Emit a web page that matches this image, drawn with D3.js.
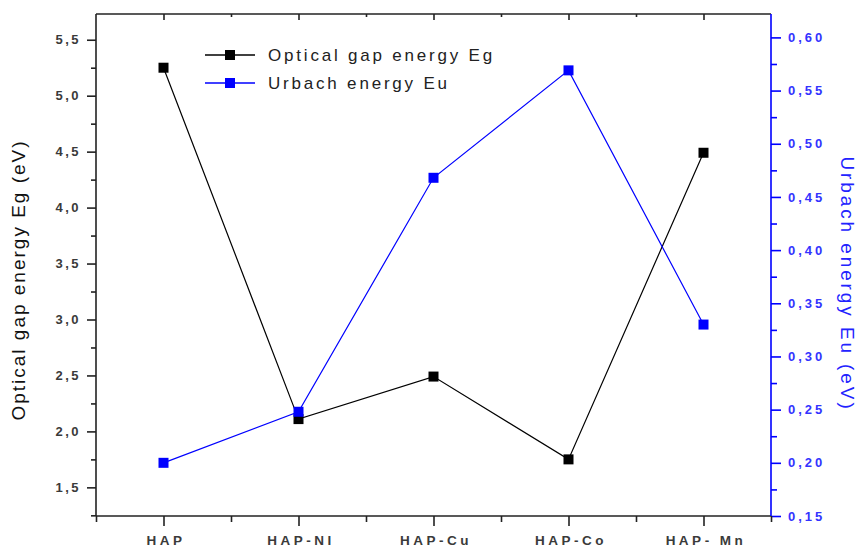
<!DOCTYPE html>
<meta charset="utf-8">
<style>
body {
  background: #fff;
  margin: 0;
  padding: 0;
}
svg {
  font-family: "Liberation Sans", Arial, sans-serif;
  display: block;
}
.domain {
  display: none;
}
.tick line {
  stroke: #222;
  stroke-width: 1.6px;
}
.right .tick line {
  stroke: #00f;
}
.tick text {
  font-size: 13px;
  font-weight: bold;
  fill: #3a3a3a;
  letter-spacing: 2.5px;
}
.bottom .tick text {
  font-size: 13.5px;
  letter-spacing: 3.5px;
}
.right .tick text {
  fill: #33f;
  letter-spacing: 3px;
}
.frame {
  stroke: #222;
  stroke-width: 1.6px;
}
.series {
  fill: none;
  stroke-width: 1.2px;
}
.title {
  font-size: 19px;
}
.legend text {
  font-size: 17px;
  letter-spacing: 2.8px;
  fill: #222;
}
</style>
<body>
<div id="chart"></div>
<script src="https://d3js.org/d3.v7.min.js"></script>
<script>
var samples = ["HAP", "HAP-NI", "HAP-Cu", "HAP-Co", "HAP- Mn"];
var gapEnergy = [5.25, 2.11, 2.49, 1.75, 4.49];
var urbachEnergy = [0.20, 0.248, 0.468, 0.569, 0.33];

var gapTicks = [1.5, 2.0, 2.5, 3.0, 3.5, 4.0, 4.5, 5.0, 5.5];
var gapMinor = [1.25, 1.75, 2.25, 2.75, 3.25, 3.75, 4.25, 4.75, 5.25];
var urbachTicks = [0.15, 0.20, 0.25, 0.30, 0.35, 0.40, 0.45, 0.50, 0.55, 0.60];
var urbachMinor = [0.175, 0.225, 0.275, 0.325, 0.375, 0.425, 0.475, 0.525, 0.575];

var width = 864,
    height = 548;

// plot box (named so they don't clash with window.top)
var pLeft = 96, pRight = 771, pTop = 14, pBottom = 516;

var x = d3.scaleLinear().domain([-0.5, 4.5]).range([pLeft, pRight]);
var yGap = d3.scaleLinear().domain([1.244, 5.73]).range([pBottom, pTop]);
var yUrb = d3.scaleLinear().domain([0.15, 0.622]).range([pBottom, pTop]);

var locale = d3.formatLocale({decimal: ",", thousands: ".", grouping: [3], currency: ["", ""]});
var f1 = locale.format(".1f"),
    f2 = locale.format(".2f");

var svg = d3.select("#chart").append("svg")
    .attr("width", width)
    .attr("height", height);

// minor ticks first, majors on top
svg.append("g")
    .attr("class", "left")
    .attr("transform", "translate(" + pLeft + ",0)")
    .call(d3.axisLeft(yGap).tickValues(gapMinor).tickSize(5).tickFormat(""));
svg.append("g")
    .attr("class", "left")
    .attr("transform", "translate(" + pLeft + ",0)")
    .call(d3.axisLeft(yGap).tickValues(gapTicks).tickSize(9).tickPadding(8).tickFormat(f1))
    .selectAll("text").attr("dx", "2px");

svg.append("g")
    .attr("class", "right")
    .attr("transform", "translate(" + pRight + ",0)")
    .call(d3.axisRight(yUrb).tickValues(urbachMinor).tickSize(6).tickFormat(""));
svg.append("g")
    .attr("class", "right")
    .attr("transform", "translate(" + pRight + ",0)")
    .call(d3.axisRight(yUrb).tickValues(urbachTicks).tickSize(10).tickPadding(7).tickFormat(f2));

svg.append("g")
    .attr("class", "bottom")
    .attr("transform", "translate(0," + pBottom + ")")
    .call(d3.axisBottom(x).tickValues([-0.5, 0.5, 1.5, 2.5, 3.5, 4.5]).tickSize(6).tickFormat(""));
svg.append("g")
    .attr("class", "bottom")
    .attr("transform", "translate(0," + pBottom + ")")
    .call(d3.axisBottom(x).tickValues(d3.range(samples.length)).tickSize(10).tickPadding(9)
      .tickFormat(function(d) { return samples[d]; }))
    .selectAll("text").attr("dx", "2px");

// top axis, ticks inward
svg.append("g")
    .attr("class", "top")
    .attr("transform", "translate(0," + pTop + ")")
    .call(d3.axisBottom(x).tickValues([0.5, 1.5, 2.5, 3.5]).tickSize(3).tickFormat(""));
svg.append("g")
    .attr("class", "top")
    .attr("transform", "translate(0," + pTop + ")")
    .call(d3.axisBottom(x).tickValues(d3.range(samples.length)).tickSize(6).tickFormat(""));

// frame
svg.append("line").attr("class", "frame")
    .attr("x1", pLeft).attr("x2", pRight).attr("y1", pTop).attr("y2", pTop);
svg.append("line").attr("class", "frame")
    .attr("x1", pLeft).attr("x2", pRight).attr("y1", pBottom).attr("y2", pBottom);
svg.append("line").attr("class", "frame")
    .attr("x1", pLeft).attr("x2", pLeft).attr("y1", pTop).attr("y2", pBottom);
svg.append("line").attr("class", "frame")
    .attr("x1", pRight).attr("x2", pRight).attr("y1", pTop).attr("y2", pBottom)
    .style("stroke", "#00f");

// axis titles
svg.append("text")
    .attr("class", "title")
    .attr("transform", "translate(25,280) rotate(-90)")
    .attr("text-anchor", "middle")
    .style("letter-spacing", "2px")
    .style("fill", "#111")
    .text("Optical gap energy  Eg (eV)");

svg.append("text")
    .attr("class", "title")
    .attr("transform", "translate(841,284) rotate(90)")
    .attr("text-anchor", "middle")
    .style("letter-spacing", "2.9px")
    .style("fill", "#22f")
    .text("Urbach energy Eu (eV)");

function drawSeries(values, y, color) {
  var line = d3.line()
      .x(function(d, i) { return x(i); })
      .y(function(d) { return y(d); });
  svg.append("path")
      .datum(values)
      .attr("class", "series")
      .attr("stroke", color)
      .attr("d", line);
  svg.selectAll(null)
      .data(values)
      .enter().append("rect")
      .attr("x", function(d, i) { return x(i) - 5; })
      .attr("y", function(d) { return y(d) - 5; })
      .attr("width", 10)
      .attr("height", 10)
      .attr("fill", color);
}

drawSeries(gapEnergy, yGap, "#000");
drawSeries(urbachEnergy, yUrb, "#00f");

// legend
var legendItems = [
  {label: "Optical gap energy Eg", color: "#000"},
  {label: "Urbach energy Eu", color: "#00f"}
];
var legend = svg.append("g")
    .attr("class", "legend")
    .attr("transform", "translate(205,55)");
var item = legend.selectAll("g")
    .data(legendItems)
    .enter().append("g")
    .attr("transform", function(d, i) { return "translate(0," + i * 28 + ")"; });
item.append("line")
    .attr("x1", 0).attr("x2", 50)
    .attr("stroke", function(d) { return d.color; })
    .attr("stroke-width", 1.4);
item.append("rect")
    .attr("x", 20).attr("y", -5)
    .attr("width", 10).attr("height", 10)
    .attr("fill", function(d) { return d.color; });
item.append("text")
    .attr("x", 63)
    .attr("y", 6)
    .text(function(d) { return d.label; });
</script>
</body>
